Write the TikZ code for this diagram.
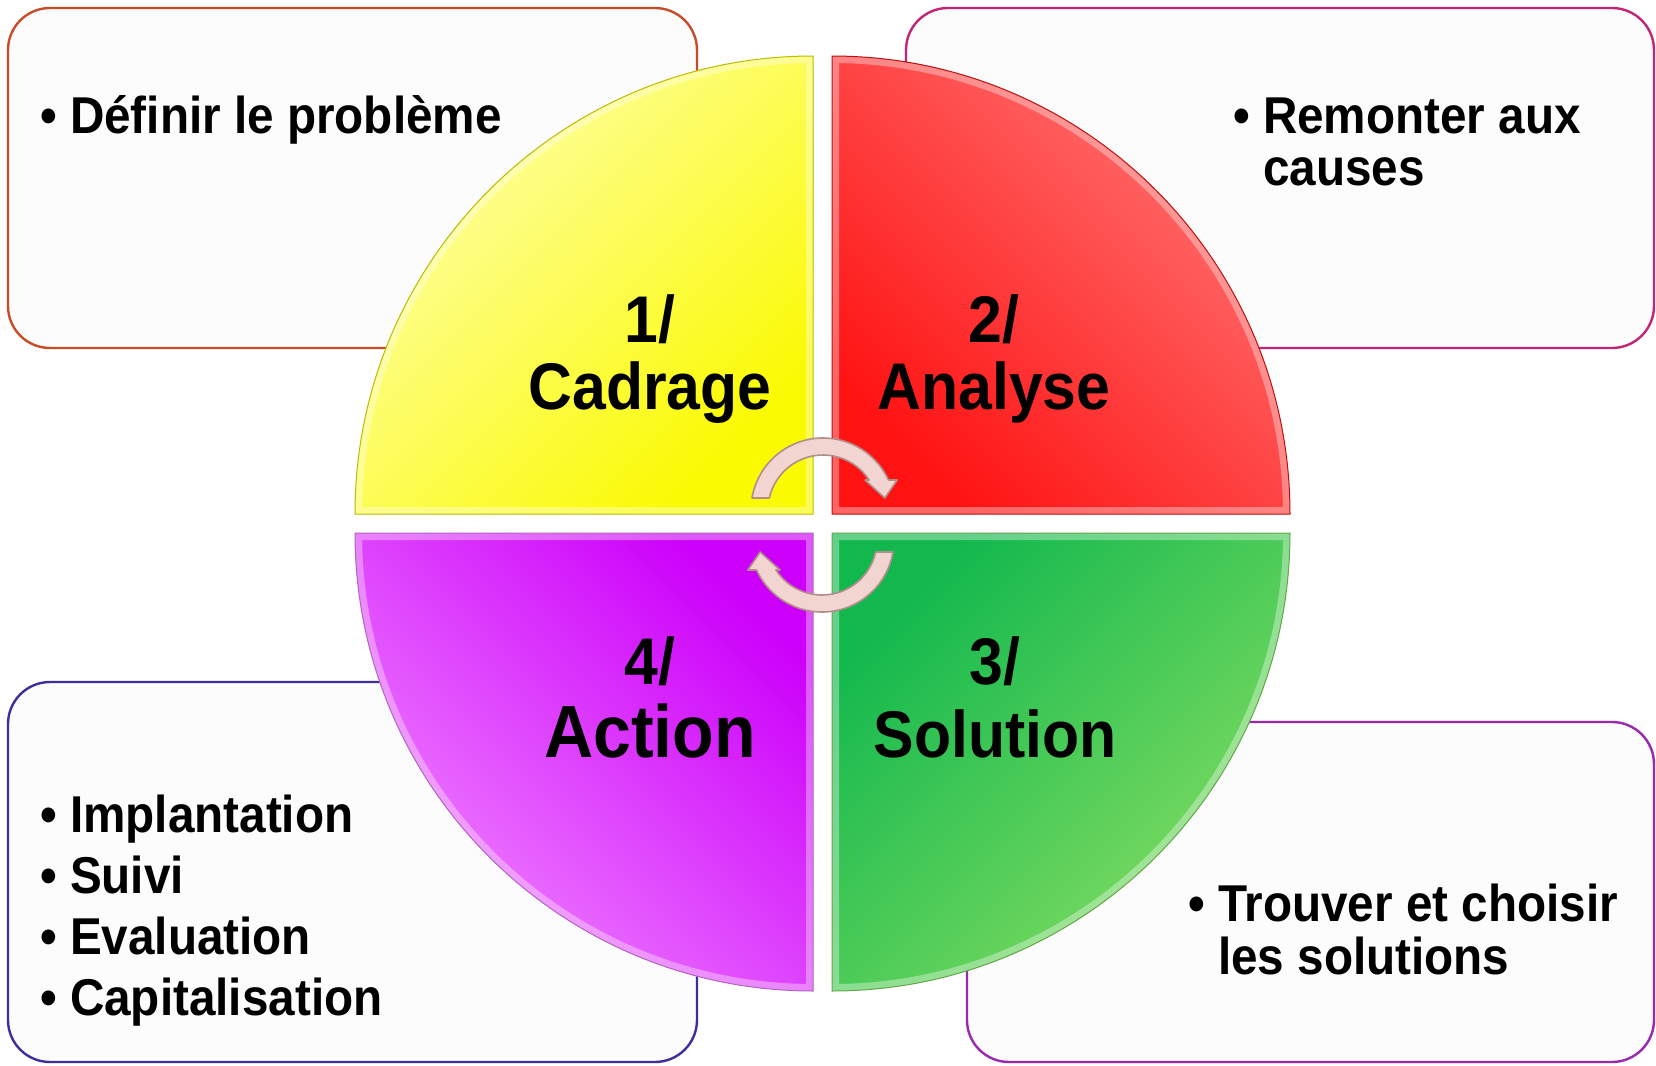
\documentclass[tikz,border=0pt]{standalone}
\usepackage{fontspec}
\setmainfont{Liberation Sans}[FakeStretch=0.92]
\usetikzlibrary{calc}
\usetikzlibrary{positioning}
\definecolor{boxFill}{HTML}{FCFCFC}
\definecolor{cadrageEdge}{HTML}{C84C2A}
\definecolor{analyseEdge}{HTML}{C42474}
\definecolor{actionEdge}{HTML}{3E309C}
\definecolor{solutionEdge}{HTML}{9A28B0}
\definecolor{cadrageLight}{HTML}{FFFFAC}
\definecolor{cadrageDeep}{HTML}{FAFA00}
\definecolor{analyseLight}{HTML}{FF7474}
\definecolor{analyseDeep}{HTML}{FF1212}
\definecolor{solutionLight}{HTML}{86DE62}
\definecolor{solutionDeep}{HTML}{12B84E}
\definecolor{actionLight}{HTML}{F084FF}
\definecolor{actionDeep}{HTML}{CC00FA}
\definecolor{arrowFill}{HTML}{F2D4D0}
\definecolor{arrowEdge}{HTML}{B28E8A}
% bullet list set in a two-column tabular
\newcommand*\puces[1]{%
    \begin{tabular}[t]{@{}l@{\hspace{6.5pt}}l@{}}#1\end{tabular}%
}
% block arrow of the cycle, drawn round (0,0)
\newcommand*\cyclearrow{%
    (170.4:72) arc[start angle=170.4, end angle=24.6, radius=72]
    -- (22:80) -- (11:63) -- (35.5:51.6) -- (33:55)
    arc[start angle=33, end angle=167.4, radius=55] -- cycle
}

\begin{document}
\begin{tikzpicture}
    [%
        x=0.5pt,y=0.5pt,%
        etape box/.style={%
            line width=1.2pt,%
            fill=boxFill,%
            rounded corners=21pt%
        },%
        puce text/.style={%
            anchor=base west,%
            inner sep=0pt,%
            font=\fontsize{25.9pt}{26pt}\selectfont\bfseries%
        },%
        etape label/.style={%
            anchor=base,%
            inner sep=0pt,%
            align=center,%
            font=\fontsize{33pt}{33.5pt}\selectfont\bfseries%
        },%
        etape label bas/.style={%
            etape label,%
            font=\fontsize{33pt}{36.5pt}\selectfont\bfseries%
        },%
        cycle arrow/.style={%
            fill=arrowFill,%
            draw=arrowEdge,%
            line width=0.8pt,%
            line join=round%
        }%
    ]%
    \useasboundingbox (0,0) rectangle (1656,-1066);
%
    % boxes behind the circle
    \draw[etape box, draw=cadrageEdge] (8,-8) rectangle (697,-348);
    \draw[etape box, draw=analyseEdge] (906,-8) rectangle (1654,-348);
    \draw[etape box, draw=actionEdge] (8,-682) rectangle (697,-1062);
    \draw[etape box, draw=solutionEdge] (967,-722) rectangle (1654,-1062);
%
    % the four quarters
    \foreach \cx/\cy/\a/\topc/\botc/\shang in {%
        813/-514/90/cadrageLight/cadrageDeep/45,%
        832/-514/0/analyseLight/analyseDeep/-45,%
        832/-533/270/solutionDeep/solutionLight/45,%
        813/-533/180/actionDeep/actionLight/-45%
    }{%
        \shade[top color=\topc, bottom color=\botc, shading angle=\shang]
            (\cx,\cy) -- ++(\a:458) arc[start angle=\a, end angle=\a+90, radius=458] -- cycle;
        \begin{scope}
            \clip (\cx,\cy) -- ++(\a:458) arc[start angle=\a, end angle=\a+90, radius=458] -- cycle;
            \draw[white, opacity=0.35, line width=7pt]
                (\cx,\cy) -- ++(\a:458) arc[start angle=\a, end angle=\a+90, radius=458] -- cycle;
        \end{scope}
        \draw[\botc!75!black, line width=0.5pt]
            (\cx,\cy) -- ++(\a:458) arc[start angle=\a, end angle=\a+90, radius=458] -- cycle;
    }
%
    % arrows of the cycle
    \begin{scope}[shift={(823,-510)}]
        \draw[cycle arrow] \cyclearrow;
    \end{scope}
    \begin{scope}[shift={(822,-540)}, rotate=180]
        \draw[cycle arrow] \cyclearrow;
    \end{scope}
%
    % step labels (base = last line)
    \node[etape label] (cadrage-label) at (650,-409) {1/\\Cadrage};
    \node[etape label] (analyse-label) at (994,-409) {2/\\Analyse};
    \node[etape label bas] (solution-label) at (995,-757) {3/\\Solution};
    \node[etape label bas] (action-label) at (650,-757)
        {4/\\\fontsize{37pt}{37pt}\selectfont Action};
%
    % box texts
    \node[puce text] (cadrage-text) at (40,-133)
        {\puces{\textbullet & Définir le problème}};
    \node[puce text] (analyse-text) at (1233,-133)
        {\puces{\textbullet & Remonter aux\\ & causes}};
    \node[puce text] (solution-text) at (1188,-921)
        {\puces{\textbullet & Trouver et choisir\\ & les solutions}};
    \node[puce text] (action-text) at (40,-832)
        {\puces{\textbullet & Implantation\\[4pt] \textbullet & Suivi\\[4pt]
                \textbullet & Evaluation\\[4pt] \textbullet & Capitalisation}};
\end{tikzpicture}
\end{document}
